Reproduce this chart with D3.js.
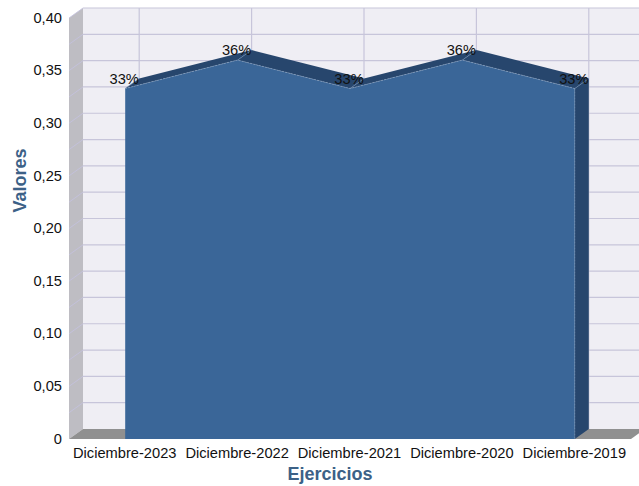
<!DOCTYPE html>
<html lang="es">
<head>
    <meta charset="UTF-8">
    <title>Valores por ejercicio</title>
    <script src="https://d3js.org/d3.v7.min.js"></script>
    <style>
        html, body { margin: 0; padding: 0; background: #fff; overflow: hidden; }
        svg { display: block; font-family: "Liberation Sans", Arial, sans-serif; }
    </style>
</head>
<body>
    <svg></svg>

    <script>
        const categories = ["Diciembre-2023", "Diciembre-2022", "Diciembre-2021", "Diciembre-2020", "Diciembre-2019"];
        const values = [0.333, 0.36, 0.333, 0.36, 0.333];
        const labels = ["33%", "36%", "33%", "36%", "33%"];
        const yTicks = [0, 0.05, 0.1, 0.15, 0.2, 0.25, 0.3, 0.35, 0.4];
        const yTickLabels = ["0", "0,05", "0,10", "0,15", "0,20", "0,25", "0,30", "0,35", "0,40"];
        const yGrid = [0.025, 0.05, 0.075, 0.1, 0.125, 0.15, 0.175, 0.2, 0.225, 0.25, 0.275, 0.3, 0.325, 0.35, 0.375, 0.4];

        const width = 639, height = 486;
        const x0 = 69, x1 = 631, y0 = 439, y1 = 18;
        const dx = 14, dy = -10; // 3d depth

        const svg = d3.select("svg").attr("width", width).attr("height", height);

        const x_scale = d3.scaleBand().domain(categories).range([x0, x1]);
        const y_scale = d3.scaleLinear().domain([0, 0.4]).range([y0, y1]);
        const cx = d => x_scale(d) + x_scale.bandwidth() / 2;
        const line = d3.line().x(d => d[0]).y(d => d[1]);

        // walls
        svg.append("path").attr("fill", "#efeef4")
            .attr("d", line([[x0 + dx, y1 + dy], [x1 + dx, y1 + dy], [x1 + dx, y0 + dy], [x0 + dx, y0 + dy]]) + "Z");
        svg.append("path").attr("fill", "#bebdc3")
            .attr("d", line([[x0, y1], [x0 + dx, y1 + dy], [x0 + dx, y0 + dy], [x0, y0]]) + "Z");
        svg.append("path").attr("fill", "#909090")
            .attr("d", line([[x0, y0], [x0 + dx, y0 + dy], [x1 + dx, y0 + dy], [x1, y0]]) + "Z");

        // gridlines
        const grid = "#c7c5da";
        svg.selectAll(".h").data(yGrid).join("line").attr("class", "h")
            .attr("x1", x0 + dx).attr("x2", x1 + dx)
            .attr("y1", d => y_scale(d) + dy).attr("y2", d => y_scale(d) + dy)
            .attr("stroke", grid).attr("stroke-width", 1.2);
        svg.selectAll(".side").data(yGrid).join("line").attr("class", "side")
            .attr("x1", x0).attr("x2", x0 + dx)
            .attr("y1", d => y_scale(d)).attr("y2", d => y_scale(d) + dy)
            .attr("stroke", "#c4c2e0").attr("stroke-width", 0.8);
        svg.selectAll(".v").data(categories).join("line").attr("class", "v")
            .attr("x1", d => cx(d) + dx).attr("x2", d => cx(d) + dx)
            .attr("y1", y1 + dy).attr("y2", y0 + dy)
            .attr("stroke", grid).attr("stroke-width", 1.2);

        // area top faces and right side
        const pts = categories.map((c, i) => [cx(c), y_scale(values[i])]);
        d3.pairs(pts).forEach(([a, b]) => {
            svg.append("path").attr("fill", "#27466d")
                .attr("d", line([a, [a[0] + dx, a[1] + dy], [b[0] + dx, b[1] + dy], b]) + "Z");
        });
        const last = pts[pts.length - 1];
        svg.append("path").attr("fill", "#27466d")
            .attr("d", line([last, [last[0] + dx, last[1] + dy], [last[0] + dx, y0 + dy], [last[0], y0]]) + "Z");

        // fold lines
        pts.forEach(p => {
            svg.append("line")
                .attr("x1", p[0]).attr("y1", p[1]).attr("x2", p[0] + dx).attr("y2", p[1] + dy)
                .attr("stroke", "#6f8db0").attr("stroke-width", 0.6);
        });

        // front of the area
        const area = d3.area().x(d => d[0]).y0(y0).y1(d => d[1]);
        svg.append("path").attr("fill", "#3a6698").attr("d", area(pts));
        svg.append("path").attr("fill", "none").attr("stroke", "#8fa6c2").attr("stroke-width", 0.6)
            .attr("stroke-dasharray", "2,1").attr("d", line(pts));
        svg.append("path").attr("fill", "none").attr("stroke", "#8fa6c2").attr("stroke-width", 0.5)
            .attr("stroke-dasharray", "2,1").attr("d", line([last, [last[0], y0]]));

        // axes
        const yAxis = d3.axisLeft(y_scale).tickValues(yTicks).tickSize(0).tickPadding(7)
            .tickFormat((d, i) => yTickLabels[i]);
        const gy = svg.append("g").attr("transform", `translate(${x0},0)`).call(yAxis);
        const xAxis = d3.axisBottom(x_scale).tickSize(0).tickPadding(9);
        const gx = svg.append("g").attr("transform", `translate(0,${y0})`).call(xAxis);
        [gy, gx].forEach(g => {
            g.select(".domain").remove();
            g.selectAll("text").attr("fill", "#111").style("font-size", "14.67px").style("font-family", "inherit");
        });
        gy.selectAll("text").attr("y", -0.5);
        gx.selectAll("text").attr("x", -0.5);

        // value labels
        svg.selectAll(".lbl").data(pts).join("text").attr("class", "lbl")
            .attr("x", d => d[0] - 1).attr("y", d => d[1] - 5)
            .attr("text-anchor", "middle").attr("fill", "#111").style("font-size", "14.67px")
            .text((d, i) => labels[i]);

        // axis titles
        svg.append("text").attr("x", 330).attr("y", 479.5).attr("text-anchor", "middle")
            .attr("fill", "#3c6187").style("font-size", "18px").style("font-weight", "bold").text("Ejercicios");
        svg.append("text").attr("transform", "translate(25.5,180.5) rotate(-90)").attr("text-anchor", "middle")
            .attr("fill", "#3c6187").style("font-size", "18px").style("font-weight", "bold").text("Valores");
    </script>
</body>
</html>
